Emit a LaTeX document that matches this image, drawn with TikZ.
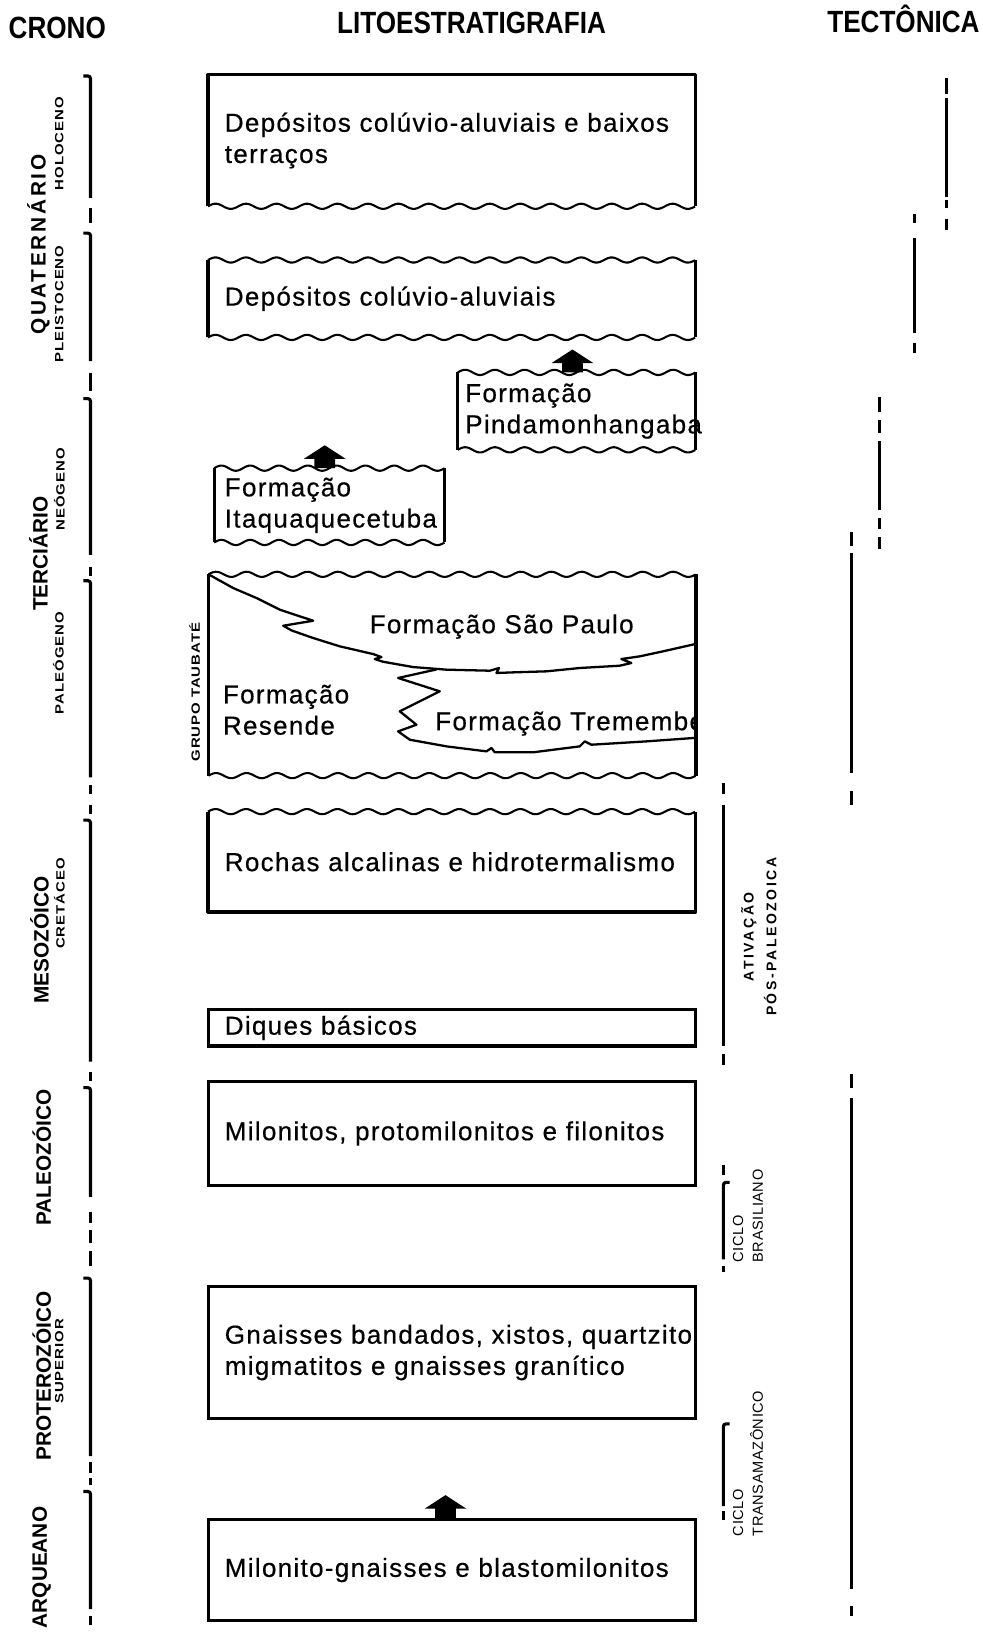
\documentclass[tikz,border=0pt]{standalone}
\usepackage{fontspec}
\setmainfont{Liberation Sans}
\newfontfamily\layerfont{Liberation Sans}[LetterSpace=5,FakeBold=0.5]
\newfontfamily\headfont{Liberation Sans}[FakeStretch=0.85]
\newfontfamily\widefont{Liberation Sans}[FakeStretch=1.25,LetterSpace=8]
\newfontfamily\quatfont{Liberation Sans}[LetterSpace=13]
\newfontfamily\tectfont{Liberation Sans}[LetterSpace=18]
\newfontfamily\cyclefont{Liberation Sans}[LetterSpace=4]
\usetikzlibrary{calc}

\newcommand{\blockarrow}[1]{%
  \fill #1 ++(-10,0) -- ++(0,-9) -- ++(-10,0) -- ++(20,-13) -- ++(20,13) -- ++(-10,0) -- ++(0,9) -- cycle;}
% wavy (erosive) contact between two anchors at the same height
\newcommand{\wave}[2]{%
  \draw[wavy] let \p1=#1, \p2=#2, \n1={int(round((\x2-\x1)/29))} in
    plot[variable=\t, domain=0:1, samples=220] ({\x1+(\x2-\x1)*\t}, {\y1+2.5pt*sin(360*\n1*\t)});}

\tikzset{
  layer/.style={inner xsep=16pt, inner ysep=0pt, text width=436pt, align=left,
    font=\layerfont\fontsize{25}{30}\selectfont},
  boxed/.style={layer, draw, line width=3pt},
  side/.style={line width=3pt, line join=round},
  wavy/.style={line width=2pt, line join=round},
  finger/.style={line width=2.2pt, line join=round},
  head/.style={inner sep=0pt, font=\headfont\bfseries\fontsize{29.5}{32}\selectfont},
  era/.style={rotate=90, inner sep=0pt, font=\bfseries\fontsize{20}{22}\selectfont},
  epoch/.style={rotate=90, inner sep=0pt, font=\widefont\bfseries\fontsize{11.5}{13}\selectfont},
  tline/.style={line width=3pt},
  cyc/.style={rotate=90, inner sep=0pt, align=left, anchor=north west,
    font=\cyclefont\fontsize{14}{19}\selectfont}
}

\begin{document}
\begin{tikzpicture}[x=1pt,y=-1pt]
\useasboundingbox (0,0) rectangle (944,1568);

% Column titles
\node[head] (crono) at (55,27) {CRONO};
\node[head] (lito) at (453,22) {LITOESTRATIGRAFIA};
\node[head] (tecto) at (868,18) {TECTÔNICA};

% Crono column
\node[era, font=\quatfont\bfseries\fontsize{20}{22}\selectfont] (quat) at (37,235) {QUATERNÁRIO};
\node[epoch] (holoc) at (57,138) {HOLOCENO};
\node[epoch] (pleist) at (57,292) {PLEISTOCENO};
\node[era] (terc) at (37,532) {TERCIÁRIO};
\node[epoch] (neog) at (57,470) {NEÓGENO};
\node[epoch] (paleog) at (56,637) {PALEÓGENO};
\node[era] (meso) at (38,903) {MESOZÓICO};
\node[epoch] (cret) at (57,868) {CRETÁCEO};
\node[era] (paleoz) at (40,1112) {PALEOZÓICO};
\node[era] (prot) at (40,1322) {PROTEROZÓICO};
\node[epoch] (super) at (57,1308) {SUPERIOR};
\node[era] (arq) at (40,1506) {ARQUEANO};

\foreach \t/\e in {73/190, 224/347, 383/533, 558/747, 788/1020, 1045/1150, 1228/1399, 1433/1546}
  \draw[tline, rounded corners=2.5pt] (80,\t) -- (87,\t) -- (87,\e);
\foreach \a/\b in {200/214, 358/376, 545/553, 754/763, 773/782, 1030/1039, 1164/1175, 1182/1194, 1202/1216, 1405/1415, 1420/1427, 1553/1561}
  \draw[tline] (87,\a) -- (87,\b);

% Litoestratigrafia column
\node[layer, minimum height=126pt] (dep1) at (434,135) {\mbox{Depósitos colúvio-aluviais e baixos}\\terraços};
\draw[side] (dep1.south west) -- (dep1.north west) -- (dep1.north east) -- (dep1.south east);
\wave{(dep1.south west)}{(dep1.south east)}

\node[layer, minimum height=74pt] (dep2) at (434,287) {Depósitos colúvio-aluviais};
\draw[side] (dep2.south west) -- (dep2.north west) (dep2.south east) -- (dep2.north east);
\wave{(dep2.north west)}{(dep2.north east)}
\wave{(dep2.south west)}{(dep2.south east)}

\node[layer, inner xsep=7pt, text width=214pt, minimum height=74pt] (pinda) at (554,395) {Formação\\\mbox{Pindamonhangaba}};
\draw[side] (pinda.south west) -- (pinda.north west) (pinda.south east) -- (pinda.north east);
\wave{(pinda.north west)}{(pinda.north east)}
\wave{(pinda.south west)}{(pinda.south east)}

\node[layer, inner xsep=10pt, text width=201pt, minimum height=71pt] (itaqua) at (316.5,485.5) {Formação\\\mbox{Itaquaquecetuba}};
\draw[side] (itaqua.south west) -- (itaqua.north west) (itaqua.south east) -- (itaqua.north east);
\wave{(itaqua.north west)}{(itaqua.north east)}
\wave{(itaqua.south west)}{(itaqua.south east)}

% Grupo Taubate
\node[layer, minimum height=193pt] (taub) at (434.5,648.5) {};
\draw[side] (taub.south west) -- (taub.north west) (taub.south east) -- (taub.north east);
\wave{(taub.north west)}{(taub.north east)}
\wave{(taub.south west)}{(taub.south east)}
\node[epoch] (grupo) at (187,665) {GRUPO TAUBATÉ};
\draw[finger] (taub.north west) -- (224.1,565.0) -- (246.5,574.6) -- (268.9,585.8) -- (300.9,596.4)
  -- (272.1,601.2) -- (280.1,605.7) -- (300.9,613.0) -- (326.5,621.0) -- (358.5,628.4)
  -- (366.5,631.3) -- (360.1,633.2) -- (368.1,635.8) -- (397.0,640.9) -- (429.0,643.4)
  -- (470.6,644.4) -- (479.5,641.8) -- (477.0,646.6) -- (493.0,646.0) -- (525.0,645.0)
  -- (557.0,641.8) -- (595.4,639.6) -- (606.6,637.0) -- (597.0,633.2) -- (614.6,630.6)
  -- (637.0,625.8) -- (667,619);
\draw[finger] (419.3,643.2) -- (382.5,651.4) -- (422.5,664.2) -- (384.1,683.4) -- (400.1,696.3)
  -- (382.5,702.7) -- (393.7,710.7) -- (429.0,717.1) -- (467.4,721.9) -- (472.2,718.7)
  -- (475.4,722.8) -- (512.2,722.8) -- (557.0,717.1) -- (561.8,712.3) -- (568.2,715.5)
  -- (621.0,712.3) -- (667,709);
\node[layer, text width=200pt, anchor=west] (resende) at (198,682) {Formação\\Resende};
\node[inner sep=0pt, font=\layerfont\fontsize{25}{30}\selectfont] (saopaulo) at (482,602) {Formação São Paulo};
\begin{scope}
  \clip (taub.south west) rectangle (taub.north east);
  \node[inner sep=0pt, anchor=west, font=\layerfont\fontsize{25}{30}\selectfont] (tremembe) at (418,695) {Formação Tremembé};
\end{scope}

\node[layer, minimum height=96pt] (alcal) at (434,828) {\mbox{Rochas alcalinas e hidrotermalismo}};
\draw[side] (alcal.north west) -- (alcal.south west) -- (alcal.south east) -- (alcal.north east);
\wave{(alcal.north west)}{(alcal.north east)}

\node[boxed, minimum height=35pt] (diques) at (434,987.5) {Diques básicos};
\node[boxed, minimum height=100pt] (milon) at (434,1089) {\mbox{Milonitos, protomilonitos e filonitos}};
\node[boxed, minimum height=127pt] (gnais) at (434,1299.5) {\mbox{Gnaisses bandados, xistos, quartzito}\\\mbox{migmatitos e gnaisses granítico}};
\node[boxed, minimum height=97pt] (milgn) at (434,1508.5) {\mbox{Milonito-gnaisses e blastomilonitos}};

% Upward arrows
\path (pinda.north) ++(-4,0) coordinate (up1);
\path (itaqua.north) ++(-4.5,0) coordinate (up2);
\path (milgn.north) ++(-6,0) coordinate (up3);
\blockarrow{(up1)}
\blockarrow{(up2)}
\blockarrow{(up3)}

% Tectonica column
\foreach \x/\a/\b in {909/75/90, 909/94/189, 909/192/200, 909/210/221, 879/206/214, 879/229/320, 879/330/339,
    845/381/396, 845/404/416, 845/424/490, 845/498/508, 845/516/527, 818/511/525, 818/531/743, 818/760/773,
    818/1032/1045, 818/1055/1527, 818/1543/1553, 695/752/763, 695/773/1005, 695/1013/1023,
    695/1119/1129, 695/1216/1222, 695/1452/1460}
  \draw[tline] (\x,\a) -- (\x,\b);
\draw[tline, rounded corners=2.5pt] (701,1136) -- (695,1136) -- (695,1210);
\draw[tline, rounded corners=2.5pt] (701,1368) -- (695,1368) -- (695,1447);

\node[rotate=90, inner sep=0pt, align=center, font=\tectfont\bfseries\fontsize{13.5}{22}\selectfont] (ativ) at (729,900) {ATIVAÇÃO\\PÓS-PALEOZOICA};
\node[cyc] (brasil) at (704,1213) {CICLO\\BRASILIANO};
\node[cyc] (transam) at (704,1476) {CICLO\\TRANSAMAZÔNICO};
\end{tikzpicture}
\end{document}
